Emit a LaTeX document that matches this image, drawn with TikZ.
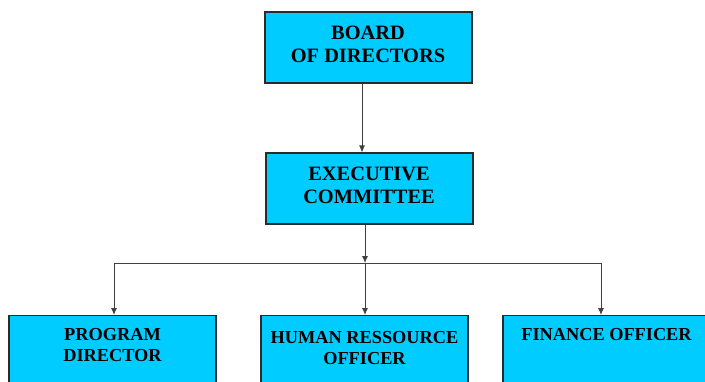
\documentclass[tikz,border=0pt]{standalone}
\usepackage{fontspec}
\setmainfont{Liberation Serif}
\usepackage{tikz}
\usetikzlibrary{shapes.geometric, arrows.meta, positioning}
\definecolor{boxcyan}{HTML}{00CCFF}
\definecolor{linegray}{HTML}{2B2B2B}
\tikzstyle{box} = [rectangle, draw=linegray, line width=1.1pt, fill=boxcyan, inner sep=0pt]
\tikzstyle{toptext} = [align=center, font=\bfseries\fontsize{20.4}{23}\selectfont, inner sep=0pt]
\tikzstyle{lowtext} = [align=center, anchor=north, font=\bfseries\fontsize{18.3}{21}\selectfont, inner sep=0pt]
\tikzstyle{arrow} = [line width=0.9pt, draw=linegray!90, -{Latex[length=7pt,width=6pt]}]

\begin{document}
\begin{tikzpicture}[x=1pt,y=-1pt]
\useasboundingbox (0,0) rectangle (705,381);
\clip (0,0) rectangle (705,381);

% top boxes
\node[box, minimum width=207, minimum height=71] (board) at (368.5,47.5) {};
\node[toptext] (boardtxt) at (368,44.5) {BOARD\\ OF DIRECTORS};
\node[box, minimum width=207, minimum height=71] (exec) at (369.5,188.5) {};
\node[toptext] (exectxt) at (369,185) {EXECUTIVE\\COMMITTEE};

% lower boxes
\node[box, minimum width=207, minimum height=130, anchor=north] (prog) at (112.5,315) {};
\node[lowtext] (progtxt) at ([yshift=-13pt]prog.north) {PROGRAM\\DIRECTOR};
\node[box, minimum width=207, minimum height=130, anchor=north] (hr) at (364.5,315) {};
\node[lowtext] (hrtxt) at ([yshift=-16pt]hr.north) {HUMAN RESSOURCE\\OFFICER};
\node[box, minimum width=207, minimum height=130, anchor=north] (fin) at (606.5,315) {};
\node[lowtext] (fintxt) at ([yshift=-13pt]fin.north) {FINANCE OFFICER};

% connectors
\coordinate (bar) at (365,263);
\coordinate (barL) at (114,263);
\coordinate (barR) at (601,263);
\draw[arrow] ([xshift=-6.5]board.south) -- ([xshift=-7.5]exec.north);
\draw[arrow] (bar |- exec.south) -- (bar);
\draw[line width=0.9pt, draw=linegray!90] (barL) -- (barR);
\draw[arrow] (barL) -- (barL |- prog.north);
\draw[arrow] (bar) -- (bar |- hr.north);
\draw[arrow] (barR) -- (barR |- fin.north);

\end{tikzpicture}
\end{document}
